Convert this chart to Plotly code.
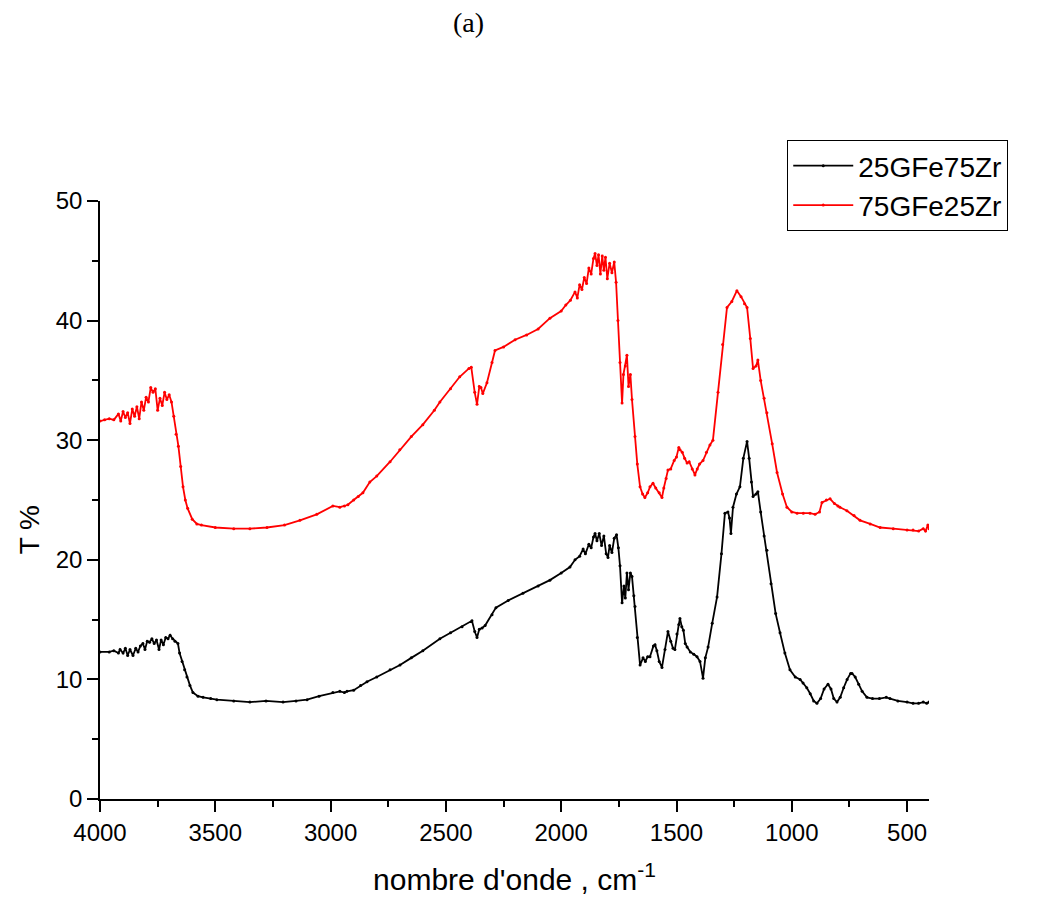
import plotly.graph_objects as go

# IR spectra
wn_75 = [4000, 3980, 3960, 3940, 3920, 3910, 3900, 3890, 3880, 3870, 3860, 3850, 3840, 3830, 3820, 3810,
         3800, 3790, 3780, 3770, 3760, 3750, 3740, 3730, 3720, 3710, 3700, 3690, 3680, 3670, 3660, 3650,
         3640, 3630, 3620, 3600, 3580, 3560, 3500, 3420, 3350, 3276, 3200, 3133, 3060, 2990, 2960, 2940,
         2925, 2900, 2880, 2860, 2830, 2800, 2742, 2700, 2650, 2600, 2550, 2526, 2480, 2440, 2400, 2390,
         2375, 2365, 2355, 2348, 2340, 2322, 2300, 2287, 2250, 2200, 2150, 2100, 2049, 2000, 1980, 1960,
         1940, 1930, 1920, 1910, 1900, 1890, 1880, 1870, 1860, 1853, 1845, 1838, 1830, 1822, 1815, 1808,
         1800, 1790, 1780, 1770, 1762, 1754, 1745, 1736, 1730, 1722, 1715, 1708, 1700, 1693, 1680, 1670,
         1658, 1647, 1637, 1625, 1615, 1602, 1590, 1575, 1563, 1555, 1545, 1537, 1525, 1510, 1500, 1490,
         1485, 1475, 1465, 1454, 1445, 1432, 1420, 1410, 1400, 1385, 1370, 1355, 1342, 1320, 1300, 1281,
         1260, 1238, 1220, 1205, 1194, 1180, 1168, 1155, 1147, 1135, 1120, 1108, 1085, 1064, 1040, 1021,
         1000, 977, 950, 921, 899, 880, 869, 850, 834, 815, 800, 791, 761, 730, 704, 660,
         617, 560, 500, 474, 450, 430, 420, 410, 405]
t_75 = [31.6, 31.7, 31.8, 31.7, 32.2, 31.6, 32.4, 31.9, 32.3, 31.4, 32.6, 32.0, 32.8, 31.8, 33.2, 32.5,
        33.6, 33.2, 34.4, 34.0, 34.3, 32.5, 33.5, 32.9, 34.0, 33.4, 33.8, 33.2, 32.0, 30.5, 29.5, 27.8,
        26.1, 25.0, 24.3, 23.4, 23.0, 22.9, 22.7, 22.6, 22.6, 22.7, 22.9, 23.3, 23.8, 24.5, 24.4, 24.5,
        24.6, 25.0, 25.3, 25.6, 26.5, 27.0, 28.2, 29.2, 30.3, 31.3, 32.5, 33.2, 34.3, 35.3, 36.0, 36.1,
        34.0, 33.0, 34.5, 34.4, 33.9, 34.8, 36.5, 37.5, 37.8, 38.4, 38.8, 39.3, 40.2, 40.8, 41.3, 41.7,
        42.4, 41.9, 43.0, 42.6, 43.6, 43.1, 44.4, 43.9, 45.2, 45.6, 44.6, 45.5, 43.9, 45.4, 44.2, 45.3,
        43.5, 44.8, 44.0, 44.9, 43.2, 40.0, 36.5, 33.1, 35.5, 36.2, 37.1, 34.5, 35.5, 33.4, 30.3, 28.0,
        26.1, 25.5, 25.2, 25.6, 26.1, 26.4, 26.0, 25.6, 25.2, 26.0, 26.8, 27.5, 27.6, 28.3, 28.6, 29.4,
        29.2, 29.0, 28.5, 28.1, 28.2, 27.6, 27.1, 27.6, 28.0, 28.3, 29.0, 29.6, 30.0, 34.0, 38.0, 41.1,
        41.6, 42.5, 42.0, 41.4, 41.1, 38.5, 36.0, 36.2, 36.7, 35.0, 33.5, 32.3, 29.7, 27.3, 25.5, 24.4,
        24.0, 23.9, 23.9, 23.9, 23.8, 24.0, 24.8, 25.0, 25.1, 24.7, 24.5, 24.4, 24.1, 23.7, 23.3, 23.0,
        22.7, 22.6, 22.5, 22.5, 22.4, 22.6, 22.4, 22.9, 22.6]

wn_25 = [4000, 3960, 3940, 3920, 3913, 3900, 3890, 3880, 3870, 3857, 3845, 3835, 3825, 3814, 3805, 3795,
         3785, 3775, 3765, 3755, 3744, 3735, 3725, 3715, 3705, 3696, 3685, 3675, 3662, 3655, 3644, 3633,
         3623, 3610, 3597, 3575, 3553, 3520, 3493, 3420, 3350, 3280, 3206, 3150, 3102, 3050, 2990, 2960,
         2940, 2929, 2900, 2870, 2842, 2800, 2742, 2699, 2650, 2600, 2526, 2480, 2430, 2387, 2375, 2365,
         2355, 2343, 2330, 2300, 2283, 2230, 2166, 2100, 2049, 2000, 1962, 1940, 1920, 1905, 1895, 1880,
         1870, 1860, 1853, 1845, 1835, 1825, 1815, 1805, 1797, 1790, 1780, 1770, 1760, 1752, 1745, 1736,
         1728, 1722, 1715, 1708, 1700, 1693, 1685, 1680, 1670, 1658, 1645, 1635, 1625, 1615, 1600, 1593,
         1585, 1575, 1563, 1550, 1537, 1525, 1515, 1507, 1498, 1490, 1485, 1477, 1470, 1462, 1454, 1440,
         1425, 1411, 1398, 1385, 1375, 1363, 1345, 1324, 1305, 1290, 1277, 1270, 1264, 1255, 1240, 1225,
         1210, 1194, 1185, 1175, 1168, 1155, 1147, 1135, 1120, 1108, 1090, 1070, 1051, 1030, 1008, 985,
         964, 951, 935, 920, 905, 891, 875, 860, 843, 830, 818, 804, 790, 775, 760, 745,
         739, 725, 710, 695, 674, 650, 620, 590, 574, 540, 500, 474, 450, 430, 415, 405]
t_25 = [12.3, 12.3, 12.4, 12.2, 12.5, 12.2, 12.6, 12.0, 12.5, 12.0, 12.6, 12.3, 12.8, 13.0, 12.5, 13.2,
        13.1, 13.4, 13.0, 13.3, 12.5, 13.3, 12.9, 13.5, 13.4, 13.7, 13.4, 13.2, 13.0, 12.2, 11.5, 10.8,
        10.2, 9.5, 8.9, 8.6, 8.5, 8.4, 8.3, 8.2, 8.1, 8.2, 8.1, 8.2, 8.3, 8.6, 8.9, 9.0,
        8.9, 9.0, 9.1, 9.5, 9.8, 10.2, 10.8, 11.2, 11.8, 12.4, 13.4, 13.9, 14.4, 14.9, 14.0, 13.5,
        14.2, 14.3, 14.5, 15.4, 16.0, 16.6, 17.2, 17.8, 18.3, 18.9, 19.4, 20.0, 20.3, 20.9, 20.5, 21.3,
        21.0, 21.9, 22.2, 21.6, 22.2, 21.2, 22.0, 20.5, 20.2, 21.2, 20.6, 21.8, 22.1, 21.0, 19.5, 16.4,
        17.8, 16.8, 18.9, 17.5, 18.9, 18.6, 17.0, 16.1, 13.5, 11.2, 11.8, 11.5, 11.9, 11.9, 12.8, 12.9,
        12.4, 11.5, 11.0, 12.5, 14.0, 13.2, 12.6, 12.5, 13.8, 14.6, 15.1, 14.4, 14.1, 13.0, 12.7, 12.3,
        12.1, 11.9, 11.5, 10.1, 11.8, 12.7, 14.7, 16.9, 20.5, 23.9, 24.0, 23.5, 22.2, 24.4, 25.5, 26.1,
        28.5, 29.9, 28.5, 26.5, 25.3, 25.5, 25.7, 24.0, 22.0, 20.8, 18.0, 15.5, 13.9, 12.2, 10.8, 10.2,
        10.0, 9.7, 9.3, 8.8, 8.2, 8.0, 8.4, 9.2, 9.6, 9.2, 8.4, 8.1, 8.5, 9.3, 10.0, 10.5,
        10.5, 10.2, 9.6, 9.0, 8.5, 8.4, 8.4, 8.5, 8.4, 8.2, 8.1, 8.0, 8.0, 8.1, 8.0, 8.1]

fig = go.Figure()

fig.add_trace(go.Scatter(name='25GFe75Zr', x=wn_25, y=t_25, mode='lines+markers',
                         line=dict(color='black', width=1.8),
                         marker=dict(color='black', size=3)))
fig.add_trace(go.Scatter(name='75GFe25Zr', x=wn_75, y=t_75, mode='lines+markers',
                         line=dict(color='#ff0000', width=1.8),
                         marker=dict(color='#ff0000', size=3)))

tick_font = dict(family='Liberation Sans, Arial', size=24, color='black')
title_font = dict(family='Liberation Sans, Arial', size=30, color='black')

fig.update_xaxes(range=[4000, 405], dtick=500, tick0=500,
                 showline=True, linecolor='black', linewidth=1.5, mirror=False,
                 ticks='outside', ticklen=11, tickwidth=1.5, tickcolor='black',
                 minor=dict(ticks='outside', ticklen=6, tickwidth=1.5, tickcolor='black', dtick=250),
                 showgrid=False, zeroline=False,
                 tickfont=tick_font,
                 title=dict(text="nombre d'onde , cm<sup>-1</sup>", standoff=24, font=title_font))
fig.update_yaxes(range=[0, 50], dtick=10,
                 showline=True, linecolor='black', linewidth=1.5, mirror=False,
                 ticks='outside', ticklen=11, tickwidth=1.5, tickcolor='black',
                 minor=dict(ticks='outside', ticklen=6, tickwidth=1.5, tickcolor='black', dtick=5),
                 showgrid=False, zeroline=False,
                 tickfont=tick_font)

# y title sits a little below the middle in the reference
fig.add_annotation(text='T %', xref='paper', yref='paper', x=-0.084, y=0.45,
                   xanchor='center', yanchor='middle', textangle=-90, showarrow=False,
                   font=dict(family='Liberation Sans, Arial', size=28, color='black'))

fig.add_annotation(text='(a)', xref='paper', yref='paper', x=0.444, y=1.299,
                   xanchor='center', yanchor='middle', showarrow=False,
                   font=dict(family='Liberation Serif, Times New Roman', size=28, color='black'))

# page puts the plot 8px in from the top-left, so margins are shifted by that
fig.update_layout(width=1044, height=901,
                  margin=dict(l=92, r=123, t=193, b=110),
                  paper_bgcolor='white', plot_bgcolor='white',
                  legend=dict(x=0.829, y=1.102, xanchor='left', yanchor='top',
                              bgcolor='white', bordercolor='black', borderwidth=1,
                              font=dict(family='Liberation Sans, Arial', size=28, color='black'),
                              itemwidth=60, tracegroupgap=0))

fig.write_html("out.html")
